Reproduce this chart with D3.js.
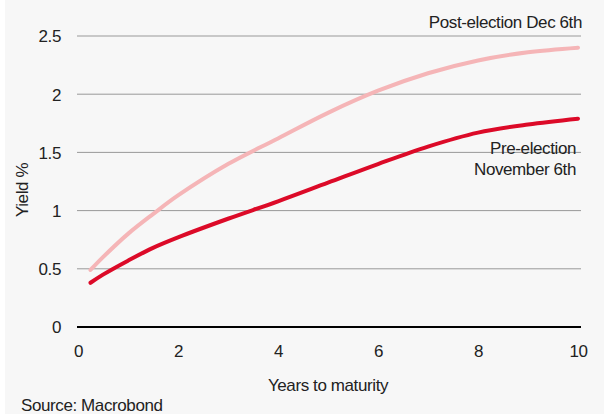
<!DOCTYPE html>
<html><head><meta charset="utf-8">
<script src="https://cdn.jsdelivr.net/npm/d3@7"></script>
<style>
html,body{margin:0;padding:0;background:#fff;}
svg{display:block;font-family:"Liberation Sans",Arial,sans-serif;}
</style></head>
<body>
<svg id="c" width="604" height="414"></svg>
<script>
const maturities = [0.25, 0.5, 1, 1.5, 2, 3, 4, 5, 6, 7, 8, 9, 10];
const postElection = [0.49, 0.6, 0.8, 0.97, 1.13, 1.4, 1.62, 1.84, 2.03, 2.18, 2.29, 2.36, 2.4];
const preElection = [0.38, 0.45, 0.57, 0.68, 0.77, 0.93, 1.08, 1.24, 1.40, 1.55, 1.67, 1.74, 1.79];
const xTicks = [0, 2, 4, 6, 8, 10];
const yTicks = [0, 0.5, 1, 1.5, 2, 2.5];

const svg = d3.select("#c");
svg.append("rect").attr("x",5).attr("y",0).attr("width",599).attr("height",414).attr("fill","#f7f7f7");

const x = d3.scaleLinear().domain([0,10]).range([78,578]);
const y = d3.scaleLinear().domain([0,2.5]).range([327,36]);

// gridlines
svg.append("g").selectAll("line").data(yTicks.filter(d=>d>0)).join("line")
  .attr("x1",77).attr("x2",581).attr("y1",d=>y(d)).attr("y2",d=>y(d))
  .attr("stroke","#999").attr("stroke-width",1);
svg.append("line").attr("x1",77).attr("x2",581).attr("y1",y(0)).attr("y2",y(0))
  .attr("stroke","#000").attr("stroke-width",2.2);

const FS = 17;
const FF = "Liberation Sans, Arial, sans-serif";
// y axis labels
const yAxis = d3.axisLeft(y).tickValues(yTicks).tickSize(0).tickPadding(0).tickFormat(d=>String(d));
const gy = svg.append("g").attr("transform","translate(61,0)").call(yAxis);
gy.select(".domain").remove();
gy.selectAll("text").attr("font-size",FS).attr("fill","#222").attr("font-family",FF).attr("dy","0.35em").attr("letter-spacing","-0.4");

// x axis labels
const xAxis = d3.axisBottom(x).tickValues(xTicks).tickSize(0).tickPadding(0).tickFormat(d=>String(d));
const gx = svg.append("g").attr("transform","translate(0,345)").call(xAxis);
gx.select(".domain").remove();
gx.selectAll("text").attr("font-size",FS).attr("fill","#222").attr("font-family",FF).attr("dy","0.71em").attr("letter-spacing","-0.4");

const line = d3.line().x((d,i)=>x(maturities[i])).y(d=>y(d)).curve(d3.curveCatmullRom);
svg.append("path").datum(postElection).attr("d",line).attr("fill","none")
  .attr("stroke","#f5b5b7").attr("stroke-width",4).attr("stroke-linecap","round");
svg.append("path").datum(preElection).attr("d",line).attr("fill","none")
  .attr("stroke","#dc0a28").attr("stroke-width",4).attr("stroke-linecap","round");

const t = (txt,xx,yy,anchor)=> svg.append("text").attr("x",xx).attr("y",yy).attr("text-anchor",anchor)
    .attr("font-size",FS).attr("fill","#222").attr("letter-spacing","-0.4").text(txt);
t("Post-election Dec 6th",582,28,"end");
t("Pre-election",576,154,"end");
t("November 6th",576,175,"end");
t("Years to maturity",328,391,"middle");
t("Source: Macrobond",21,411,"start");
svg.append("text").attr("transform","translate(28,190) rotate(-90)").attr("text-anchor","middle")
  .attr("font-size",FS).attr("fill","#222").attr("letter-spacing","-0.4").text("Yield %");
</script>
</body></html>
